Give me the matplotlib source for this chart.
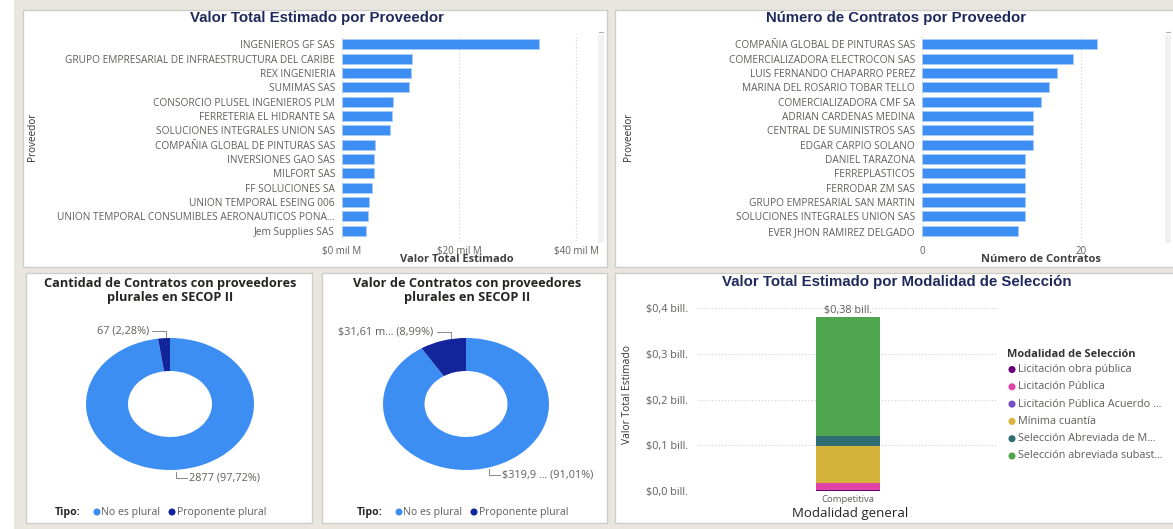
import numpy as np
import matplotlib
matplotlib.use("Agg")
from matplotlib import pyplot as plt
from matplotlib.patches import Rectangle

W, H = 1173, 529

# ── data ──────────────────────────────────────────────────────────────────────
proveedores_valor = [
    "INGENIEROS GF SAS",
    "GRUPO EMPRESARIAL DE INFRAESTRUCTURA DEL CARIBE",
    "REX INGENIERIA",
    "SUMIMAS SAS",
    "CONSORCIO PLUSEL INGENIEROS PLM",
    "FERRETERIA EL HIDRANTE SA",
    "SOLUCIONES INTEGRALES UNION SAS",
    "COMPAÑIA GLOBAL DE PINTURAS SAS",
    "INVERSIONES GAO SAS",
    "MILFORT SAS",
    "FF SOLUCIONES SA",
    "UNION TEMPORAL ESEING 006",
    "UNION TEMPORAL CONSUMIBLES AERONAUTICOS PONA...",
    "Jem Supplies SAS",
]
valor_total = [33.6, 12.0, 11.85, 11.45, 8.7, 8.55, 8.2, 5.64, 5.5, 5.47, 5.13, 4.56, 4.4, 4.05]  # mil M
valor_ticks = [0, 20, 40]

proveedores_num = [
    "COMPAÑIA GLOBAL DE PINTURAS SAS",
    "COMERCIALIZADORA ELECTROCON SAS",
    "LUIS FERNANDO CHAPARRO PEREZ",
    "MARINA DEL ROSARIO TOBAR TELLO",
    "COMERCIALIZADORA CMF SA",
    "ADRIAN CARDENAS MEDINA",
    "CENTRAL DE SUMINISTROS SAS",
    "EDGAR CARPIO SOLANO",
    "DANIEL TARAZONA",
    "FERREPLASTICOS",
    "FERRODAR ZM SAS",
    "GRUPO EMPRESARIAL SAN MARTIN",
    "SOLUCIONES INTEGRALES UNION SAS",
    "EVER JHON RAMIREZ DELGADO",
]
num_contratos = [22, 19, 17, 16, 15, 14, 14, 14, 13, 13, 13, 13, 13, 12]
num_ticks = [0, 20]

tipos = ["No es plural", "Proponente plural"]
cantidad_tipo = [2877, 67]
cantidad_labels = ["2877 (97,72%)", "67 (2,28%)"]
valor_tipo = [319.9, 31.61]
valor_labels = ["$319,9 ... (91,01%)", "$31,61 m... (8,99%)"]

modalidades = [
    "Licitación obra pública",
    "Licitación Pública",
    "Licitación Pública Acuerdo ...",
    "Mínima cuantía",
    "Selección Abreviada de M...",
    "Selección abreviada subast...",
]
valor_modalidad = [0.002, 0.015, 0.0005, 0.082, 0.02, 0.2605]  # bill.
modalidad_ticks = [0.0, 0.1, 0.2, 0.3, 0.4]

# ── style ─────────────────────────────────────────────────────────────────────
BLUE = "#3d8ef2"
NAVY = "#13259b"
TITLE = "#1f2a5c"
GREY = "#605e5c"
DARK = "#252423"
BEIGE = "#e8e6df"
MOD_COLORS = ["#6b007b", "#e044a7", "#744ec2", "#d6b33c", "#2f6e73", "#4fa64f"]
FONT = "Open Sans"
TFONT = "Liberation Sans"


def box(x0, y0, x1, y1):
    return [x0 / W, 1 - y1 / H, (x1 - x0) / W, (y1 - y0) / H]


fig = plt.figure(figsize=(W / 100, H / 100), dpi=100)
fig.patch.set_facecolor(BEIGE)

# background panels
bg = fig.add_axes([0, 0, 1, 1])
bg.set_xlim(0, W)
bg.set_ylim(H, 0)
bg.axis("off")
bg.add_patch(Rectangle((0, 0), 14, H, fc="white", ec="none"))
for x0, y0, x1, y1 in [(23, 10, 607, 267), (615, 10, 1180, 267),
                       (26, 273, 312, 523), (322, 273, 607, 523), (615, 273, 1180, 523)]:
    bg.add_patch(Rectangle((x0, y0), x1 - x0, y1 - y0, fc="white", ec="#cfcdc8", lw=1))
for sx in (598, 1165):
    bg.add_patch(Rectangle((sx, 35), 6, 208, fc="#f1f1f1", ec="none"))
    bg.plot([sx + 1, sx + 5], [32, 32], color="#b0b0b0", lw=0.8)


def hbar(ax, names, values, ticks, xmax, fmt):
    y = np.arange(len(names))
    ax.barh(y, values, height=0.72, color=BLUE, edgecolor="#a9cdf8", linewidth=0.6, zorder=2)
    ax.set_ylim(len(names) - 0.3, -0.7)
    ax.set_xlim(0, xmax)
    ax.set_yticks(y)
    ax.set_yticklabels(names, fontsize=7.3, color=GREY, fontfamily=FONT)
    ax.set_xticks(ticks)
    ax.set_xticklabels([fmt(t) for t in ticks], fontsize=7.0, color=GREY, fontfamily=FONT)
    ax.tick_params(length=0, axis="y", pad=5)
    ax.tick_params(length=0, axis="x", pad=3.5)
    ax.grid(axis="x", linestyle=(0, (1, 2)), color="#cfcfcf", lw=0.8, zorder=0)
    for s in ax.spines.values():
        s.set_visible(False)
    ax.set_facecolor("none")


ax1 = fig.add_axes(box(342, 34.3, 590, 240.7))
hbar(ax1, proveedores_valor, valor_total, valor_ticks, 42.4, lambda t: f"${t} mil M")

ax2 = fig.add_axes(box(922, 34.3, 1160, 240.7))
hbar(ax2, proveedores_num, num_contratos, num_ticks, 29.9, lambda t: f"{t}")

# donuts (the screenshot is squashed vertically, so the rings are ellipses)
donut_boxes = [(86, 338, 254, 470), (383, 338, 549, 470)]
donut_vals = [cantidad_tipo, valor_tipo]
donut_labels = [cantidad_labels, valor_labels]
for (x0, y0, x1, y1), vals in zip(donut_boxes, donut_vals):
    ax = fig.add_axes(box(x0, y0, x1, y1))
    ax.pie(vals, colors=[BLUE, NAVY], startangle=90, counterclock=False,
           wedgeprops=dict(width=0.5, edgecolor="none"), radius=1)
    ax.set_aspect("auto")
    ax.set_xlim(-1, 1)
    ax.set_ylim(-1, 1)
    ax.axis("off")

# stacked bar
ax5 = fig.add_axes(box(698, 308.3, 998, 491))
bottoms = np.concatenate([[0], np.cumsum(valor_modalidad)[:-1]])
for v, b, c in zip(valor_modalidad, bottoms, MOD_COLORS):
    ax5.bar([0], [v], bottom=[b], width=0.433, color=c, zorder=2)
ax5.set_xlim(-1, 1)
ax5.set_ylim(0, 0.4)
ax5.set_yticks(modalidad_ticks)
ax5.set_yticklabels([f"${t:.1f}".replace(".", ",") + " bill." for t in modalidad_ticks],
                    fontsize=7.8, color=GREY, fontfamily=FONT)
ax5.set_xticks([0])
ax5.set_xticklabels(["Competitiva"], fontsize=6.8, color=GREY, fontfamily=FONT)
ax5.tick_params(length=0, axis="y", pad=7)
ax5.tick_params(length=0, axis="x", pad=3)
ax5.grid(axis="y", linestyle=(0, (1, 2)), color="#cfcfcf", lw=0.8, zorder=0)
for s in ax5.spines.values():
    s.set_visible(False)
ax5.set_facecolor("none")
total = sum(valor_modalidad)
ax5.text(0, total + 0.004, f"${total:.2f}".replace(".", ",") + " bill.", ha="center", va="bottom",
         fontsize=7.8, color=GREY, fontfamily=FONT, clip_on=False)

# ── text overlay ─────────────────────────────────────────────────────────────
ov = fig.add_axes([0, 0, 1, 1])
ov.set_xlim(0, W)
ov.set_ylim(H, 0)
ov.axis("off")


def t(x, y, s, **kw):
    kw.setdefault("fontfamily", FONT)
    ov.text(x, y, s, **kw)


t(317, 18, "Valor Total Estimado por Proveedor", ha="center", va="center", fontsize=10.8,
  fontweight="bold", color=TITLE, fontfamily=TFONT)
t(896, 18, "Número de Contratos por Proveedor", ha="center", va="center", fontsize=10.8,
  fontweight="bold", color=TITLE, fontfamily=TFONT)
t(897, 282, "Valor Total Estimado por Modalidad de Selección", ha="center", va="center",
  fontsize=10.8, fontweight="bold", color=TITLE, fontfamily=TFONT)
for x in (33, 628):
    t(x, 137, "Proveedor", ha="center", va="center", rotation=90, fontsize=7.2, color="#333333")
t(457, 260, "Valor Total Estimado", ha="center", va="center", fontsize=8, fontweight="bold",
  color="#404040")
t(1041, 260, "Número de Contratos", ha="center", va="center", fontsize=8, fontweight="bold",
  color="#404040")
t(627, 395, "Valor Total Estimado", ha="center", va="center", rotation=90, fontsize=7.4,
  color="#333333")
t(850, 514, "Modalidad general", ha="center", va="center", fontsize=9.5, color=DARK)

for cx, title in ((170, "Cantidad de Contratos con proveedores"),
                  (467, "Valor de Contratos con proveedores")):
    t(cx, 283, title, ha="center", va="center", fontsize=9.2, fontweight="bold", color=DARK)
    t(cx, 297.5, "plurales en SECOP II", ha="center", va="center", fontsize=9.2,
      fontweight="bold", color=DARK)

# donut data labels with leader lines
for (x0, y0, x1, y1), vals, labs in zip(donut_boxes, donut_vals, donut_labels):
    cx, cy, rx, ry = (x0 + x1) / 2, (y0 + y1) / 2, (x1 - x0) / 2, (y1 - y0) / 2
    frac = np.array(vals) / sum(vals)
    # small slice (ends at 12 o'clock)
    ang = np.deg2rad(90 + 360 * frac[1] * 0.33)
    ax_, ay_ = cx + rx * np.cos(ang), cy - ry * np.sin(ang)
    ov.plot([ax_ - 14, ax_, ax_], [ay_ - 7, ay_ - 7, ay_ - 1], color="#8a8886", lw=0.7)
    t(ax_ - 17, ay_ - 7, labs[1], ha="right", va="center", fontsize=7.8, color=GREY)
    # big slice
    ang = np.deg2rad(90 - 360 * frac[0] / 2)
    bx_, by_ = cx + rx * np.cos(ang), cy - ry * np.sin(ang)
    ov.plot([bx_, bx_, bx_ + 11], [by_ + 2, by_ + 8, by_ + 8], color="#8a8886", lw=0.7)
    t(bx_ + 13, by_ + 8, labs[0], ha="left", va="center", fontsize=7.8, color=GREY)

for lx in (55, 357):
    t(lx, 512, "Tipo:", ha="left", va="center", fontsize=7.6, fontweight="bold", color=DARK)
    ov.scatter([lx + 42], [512], s=26, color=BLUE, edgecolor="none")
    t(lx + 46, 512, tipos[0], ha="left", va="center", fontsize=7.6, color=GREY)
    ov.scatter([lx + 117], [512], s=26, color=NAVY, edgecolor="none")
    t(lx + 122, 512, tipos[1], ha="left", va="center", fontsize=7.6, color=GREY)

# modalidad legend
t(1007, 354.3, "Modalidad de Selección", ha="left", va="center", fontsize=7.9,
  fontweight="bold", color="#333333")
for i, (name, c) in enumerate(zip(modalidades, MOD_COLORS)):
    yy = 369.5 + i * 17.3
    ov.scatter([1012], [yy], s=26, color=c, edgecolor="none")
    t(1018, yy, name, ha="left", va="center", fontsize=7.8, color=GREY)

fig.savefig("out.png", dpi=100, facecolor=BEIGE)
